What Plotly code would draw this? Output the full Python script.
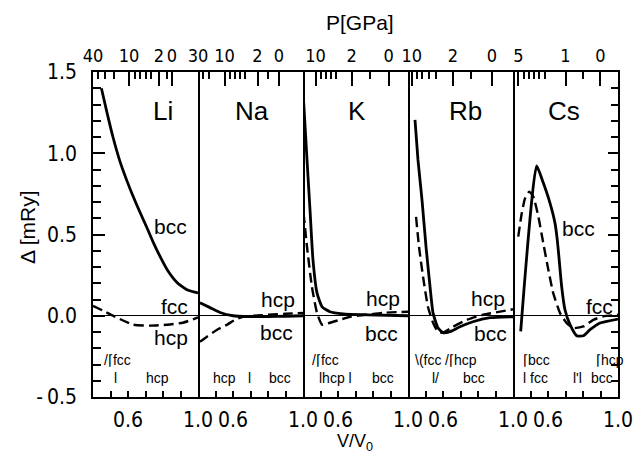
import plotly.graph_objects as go
from plotly.subplots import make_subplots

elements = ["Li", "Na", "K", "Rb", "Cs"]

# solid curves (V/V0, Delta mRy)
solid_v = {
    "Li": [0.448, 0.48, 0.514, 0.554, 0.594, 0.629, 0.669, 0.709, 0.743, 0.783, 0.823, 0.88, 0.937, 1.0],
    "Na": [0.411, 0.469, 0.526, 0.60, 0.69, 0.80, 0.90, 1.0],
    "K": [0.403, 0.423, 0.44, 0.457, 0.48, 0.509, 0.554, 0.629, 0.766, 1.0],
    "Rb": [0.44, 0.457, 0.48, 0.503, 0.526, 0.543, 0.571, 0.6, 0.64, 0.697, 0.771, 0.869, 1.0],
    "Cs": [0.444, 0.535, 0.573, 0.611, 0.64, 0.653, 0.664, 0.678, 0.697, 0.726, 0.764, 0.802, 0.84, 0.897, 1.0],
}
solid_d = {
    "Li": [1.40, 1.25, 1.10, 0.95, 0.83, 0.735, 0.635, 0.54, 0.455, 0.365, 0.285, 0.205, 0.16, 0.14],
    "Na": [0.08, 0.05, 0.02, 0.0, -0.005, -0.005, -0.003, 0.0],
    "K": [1.328, 0.959, 0.652, 0.344, 0.141, 0.055, 0.025, 0.012, 0.006, 0.0],
    "Rb": [1.205, 0.959, 0.713, 0.424, 0.178, 0.018, -0.074, -0.104, -0.098, -0.068, -0.037, -0.012, -0.006],
    "Cs": [-0.096, 0.922, 0.818, 0.695, 0.57, 0.467, 0.344, 0.18, 0.037, -0.055, -0.123, -0.123, -0.086, -0.045, -0.02],
}
# dashed curves
dash_v = {
    "Li": [0.40, 0.469, 0.526, 0.629, 0.726, 0.823, 0.914, 1.0],
    "Na": [0.411, 0.451, 0.509, 0.566, 0.611, 0.657, 0.72, 0.80, 0.90, 1.0],
    "K": [0.403, 0.423, 0.451, 0.48, 0.509, 0.554, 0.611, 0.669, 0.766, 0.857, 1.0],
    "Rb": [0.446, 0.463, 0.486, 0.514, 0.543, 0.571, 0.6, 0.657, 0.737, 0.829, 0.926, 1.0],
    "Cs": [0.430, 0.450, 0.469, 0.493, 0.516, 0.545, 0.573, 0.602, 0.630, 0.669, 0.707, 0.745, 0.802, 0.859, 0.916, 1.0],
}
dash_d = {
    "Li": [0.061, 0.025, -0.006, -0.055, -0.061, -0.055, -0.043, -0.01],
    "Na": [-0.16, -0.129, -0.086, -0.055, -0.025, -0.006, 0.0, 0.006, 0.012, 0.018],
    "K": [0.633, 0.424, 0.178, 0.018, -0.055, -0.043, -0.025, -0.006, 0.006, 0.018, 0.025],
    "Rb": [0.608, 0.424, 0.24, 0.055, -0.043, -0.098, -0.104, -0.068, -0.025, 0.006, 0.025, 0.04],
    "Cs": [0.487, 0.631, 0.723, 0.764, 0.733, 0.61, 0.447, 0.283, 0.139, 0.016, -0.045, -0.076, -0.066, -0.025, -0.004, 0.006],
}

# pressure axis (top): V/V0 positions of labelled pressures
p_labels = {
    "Li": ["40", "10", "2", "0"],
    "Na": ["30", "10", "2", "0"],
    "K": ["10", "2", "0"],
    "Rb": ["10", "2", "0"],
    "Cs": ["5", "1", "0"],
}
p_pos = {
    "Li": [0.40, 0.606, 0.777, 0.851],
    "Na": [0.40, 0.552, 0.74, 0.862],
    "K": [0.472, 0.678, 0.889],
    "Rb": [0.422, 0.657, 0.879],
    "Cs": [0.431, 0.70, 0.899],
}
p_minor = {
    "Li": [0.43, 0.47, 0.52, 0.64, 0.67, 0.70, 0.73, 0.82],
    "Na": [0.43, 0.46, 0.58, 0.61, 0.64, 0.67, 0.80],
    "K": [0.50, 0.53, 0.56, 0.59, 0.78],
    "Rb": [0.45, 0.48, 0.52, 0.56, 0.76],
    "Cs": [0.46, 0.49, 0.52, 0.55, 0.58, 0.80],
}

# labels
panel_label_pos = {"Li": 0.80, "Na": 0.709, "K": 0.709, "Rb": 0.726, "Cs": 0.691}
curve_labels = {
    "Li": [("bcc", 0.84, 0.55), ("fcc", 0.863, 0.06), ("hcp", 0.846, -0.135)],
    "Na": [("hcp", 0.857, 0.10), ("bcc", 0.846, -0.10)],
    "K": [("hcp", 0.857, 0.105), ("bcc", 0.851, -0.11)],
    "Rb": [("hcp", 0.857, 0.105), ("bcc", 0.869, -0.11)],
    "Cs": [("bcc", 0.773, 0.535), ("fcc", 0.897, 0.06)],
}
# phase-sequence notes at the bottom: (text, x, y, xanchor)
Y1, Y2 = -0.275, -0.38
phase_labels = {
    "Li": [("/\u2308fcc", 0.452, Y1, "left"), ("l", 0.526, Y2, "center"), ("hcp", 0.77, Y2, "center")],
    "Na": [("hcp", 0.554, Y2, "center"), ("l", 0.697, Y2, "center"), ("bcc", 0.869, Y2, "center")],
    "K": [("/\u2308fcc", 0.44, Y1, "left"), ("lhcp l", 0.478, Y2, "left"), ("bcc", 0.857, Y2, "center")],
    "Rb": [("\\(fcc", 0.43, Y1, "left"), ("/\u2308hcp", 0.60, Y1, "left"),
           ("l/", 0.555, Y2, "center"), ("bcc", 0.777, Y2, "center")],
    "Cs": [("\u2308bcc", 0.448, Y1, "left"), ("l fcc", 0.445, Y2, "left"),
           ("l'l", 0.768, Y2, "center"), ("\u2308hcp", 0.86, Y1, "left"), ("bcc", 0.909, Y2, "center")],
}

y_major = [-0.5, 0.0, 0.5, 1.0, 1.5]
y_ticktext = ["-\u20090.5", "0.0", "0.5", "1.0", "1.5"]
x_major = [0.6, 1.0]
x_ticktext = ["0.6", "1.0"]
x_minor = [0.5, 0.7, 0.8, 0.9]

FONT = "Liberation Sans, Arial, sans-serif"
NARROW = "Liberation Sans Narrow, DejaVu Sans Condensed, Liberation Sans, Arial, sans-serif"
LW = 1.6

fig = make_subplots(rows=1, cols=5, horizontal_spacing=0)

for i, el in enumerate(elements):
    c = i + 1
    fig.add_trace(go.Scatter(x=solid_v[el], y=solid_d[el], mode="lines",
                             line=dict(color="black", width=2.8, shape="spline", smoothing=0.5),
                             showlegend=False, hoverinfo="skip"), row=1, col=c)
    fig.add_trace(go.Scatter(x=dash_v[el], y=dash_d[el], mode="lines",
                             line=dict(color="black", width=2.4, dash="10px,5px", shape="spline", smoothing=0.5),
                             showlegend=False, hoverinfo="skip"), row=1, col=c)

layout_upd = {}
for i, el in enumerate(elements):
    c = i + 1
    sfx = "" if c == 1 else str(c)
    layout_upd["xaxis" + sfx] = dict(range=[0.4, 1.0], tickmode="array", tickvals=x_major, ticktext=x_ticktext,
                                     ticks="inside", ticklen=6, tickwidth=1.5, tickcolor="black",
                                     minor=dict(tickmode="array", tickvals=x_minor, ticks="inside", ticklen=6,
                                                tickwidth=1.5, tickcolor="black", showgrid=False),
                                     showline=True, mirror=True, linecolor="black", linewidth=LW,
                                     showgrid=False, zeroline=False, ticklabelstandoff=3,
                                     tickfont=dict(family=NARROW, size=21, color="black"))
    ydict = dict(range=[-0.5, 1.5], showline=True, linecolor="black", linewidth=LW,
                 showgrid=False, zeroline=True, zerolinecolor="black", zerolinewidth=1.3)
    if c == 1:
        ydict.update(mirror=True, tickmode="array", tickvals=y_major, ticktext=y_ticktext,
                     ticks="inside", ticklen=12, tickwidth=1.5, tickcolor="black",
                     minor=dict(dtick=0.1, tick0=0, ticks="inside", ticklen=8, tickwidth=1.5, tickcolor="black"),
                     tickfont=dict(family=NARROW, size=21, color="black"), ticklabelstandoff=10)
    elif c == 5:
        ydict.update(side="right", mirror=False, tickmode="array", tickvals=y_major, showticklabels=False,
                     ticks="inside", ticklen=10, tickwidth=1.5, tickcolor="black",
                     minor=dict(dtick=0.1, tick0=0, ticks="inside", ticklen=7, tickwidth=1.5, tickcolor="black"))
    else:
        ydict.update(side="right", mirror=False, showticklabels=False, ticks="")
    layout_upd["yaxis" + sfx] = ydict

    # top pressure axis
    layout_upd[f"xaxis{c + 5}"] = dict(overlaying="x" + sfx, anchor="y" + sfx, side="top",
                                       range=[0.4, 1.0], tickmode="array", tickvals=p_pos[el], ticktext=p_labels[el],
                                       ticks="inside", ticklen=14, tickwidth=1.5, tickcolor="black",
                                       minor=dict(tickmode="array", tickvals=p_minor[el], ticks="inside", ticklen=7,
                                                  tickwidth=1.5, tickcolor="black", showgrid=False),
                                       showline=False, showgrid=False, zeroline=False, ticklabelstandoff=5,
                                       tickfont=dict(family=NARROW, size=18, color="black"))
    fig.add_trace(go.Scatter(x=[0.4, 1.0], y=[0, 0], mode="lines", line=dict(width=0.01, color="rgba(0,0,0,0)"),
                             xaxis=f"x{c + 5}", yaxis="y" + sfx, showlegend=False, hoverinfo="skip"))

fig.update_layout(**layout_upd)

ann = []
for i, el in enumerate(elements):
    c = i + 1
    sfx = "" if c == 1 else str(c)
    xr, yr = "x" + sfx, "y" + sfx
    ann.append(dict(text=el, x=panel_label_pos[el], y=1.26, xref=xr, yref=yr, showarrow=False,
                    xanchor="center", yanchor="middle", font=dict(family=FONT, size=26, color="black")))
    for t, x, y in curve_labels[el]:
        ann.append(dict(text=t, x=x, y=y, xref=xr, yref=yr, showarrow=False, xanchor="center", yanchor="middle",
                        font=dict(family=FONT, size=21, color="black")))
    for t, x, y, xa in phase_labels[el]:
        ann.append(dict(text=t, x=x, y=y, xref=xr, yref=yr, showarrow=False, xanchor=xa, yanchor="middle",
                        font=dict(family=FONT, size=14, color="black")))

ann.append(dict(text="P[GPa]", x=0.5086, y=1.151, xref="paper", yref="paper", showarrow=False,
                xanchor="center", yanchor="middle", font=dict(family=FONT, size=21, color="black")))
ann.append(dict(text="V/V<sub>0</sub>", x=0.499, y=-0.183, xref="paper", yref="paper", showarrow=False,
                xanchor="center", yanchor="bottom", font=dict(family=FONT, size=18, color="black")))
ann.append(dict(text="\u0394 [mRy]", x=-0.1257, y=0.523, xref="paper", yref="paper", showarrow=False,
                xanchor="center", yanchor="middle", textangle=-90, font=dict(family=FONT, size=21, color="black")))

fig.update_layout(annotations=ann, width=644, height=460,
                  margin=dict(l=93, r=26, t=72, b=63),
                  paper_bgcolor="white", plot_bgcolor="white", showlegend=False)

fig.write_html("out.html")
